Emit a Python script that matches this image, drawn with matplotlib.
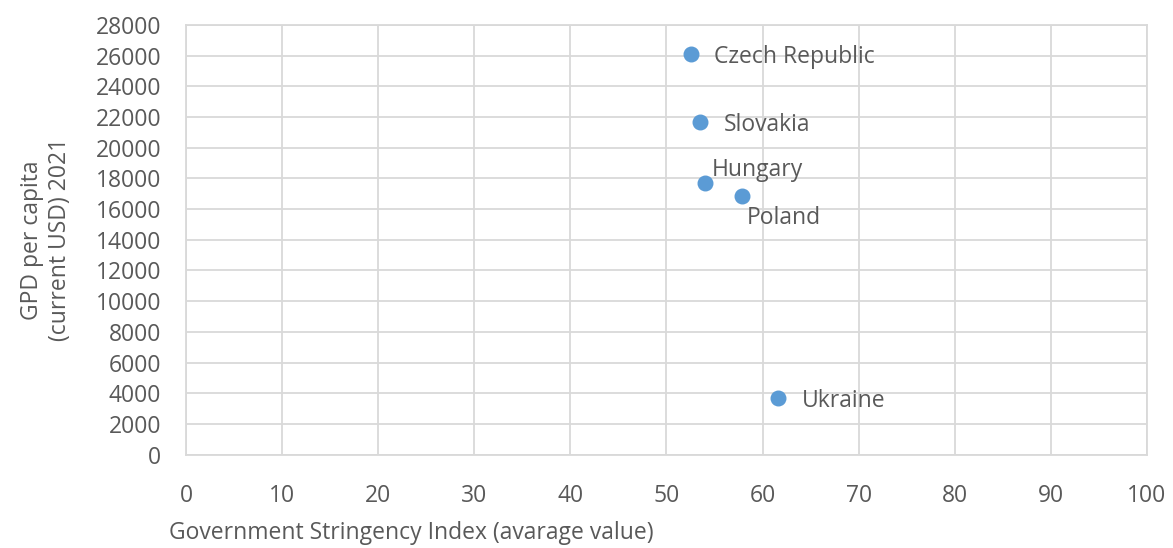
import matplotlib
matplotlib.use("Agg")
import matplotlib.pyplot as plt

# Data
countries = ["Czech Republic", "Slovakia", "Hungary", "Poland", "Ukraine"]
stringency = [52.5, 53.5, 54.0, 57.9, 61.6]
gdp_per_capita = [26100, 21680, 17730, 16840, 3690]

# label offsets in points (dx, dy)
offsets = [(17, -2), (17, -2), (5, 9), (3, -16), (17, -2)]

plt.rcParams["font.family"] = ["Open Sans", "DejaVu Sans"]
text_color = "#595959"
grid_color = "#d9d9d9"
fsize = 16.5

fig = plt.figure(figsize=(11.73, 5.48), dpi=100)
ax = fig.add_axes([0.1586, 0.1703, 0.8192, 0.7843])

ax.scatter(stringency, gdp_per_capita, s=110, color="#5b9bd5", zorder=3,
           clip_on=False)

for name, x, y, off in zip(countries, stringency, gdp_per_capita, offsets):
    ax.annotate(name, (x, y), xytext=off, textcoords="offset points",
                fontsize=fsize, color=text_color, va="center", ha="left")

ax.set_xlim(0, 100)
ax.set_ylim(0, 28000)
ax.set_xticks(range(0, 101, 10))
ax.set_yticks(range(0, 28001, 2000))
ax.grid(True, color=grid_color, linewidth=1.3)
ax.set_axisbelow(True)
for side in ax.spines.values():
    side.set_color(grid_color)
    side.set_linewidth(1.3)

ax.tick_params(axis="both", length=0, labelsize=fsize, labelcolor=text_color)
ax.tick_params(axis="x", pad=21)
ax.tick_params(axis="y", pad=18)

ax.set_ylabel("GPD per capita\n(current USD) 2021", fontsize=fsize,
              color=text_color, labelpad=17)
fig.text(0.351, 0.027, "Government Stringency Index (avarage value)",
         fontsize=fsize, color=text_color, ha="center", va="center")

fig.savefig("out.png", dpi=100)
